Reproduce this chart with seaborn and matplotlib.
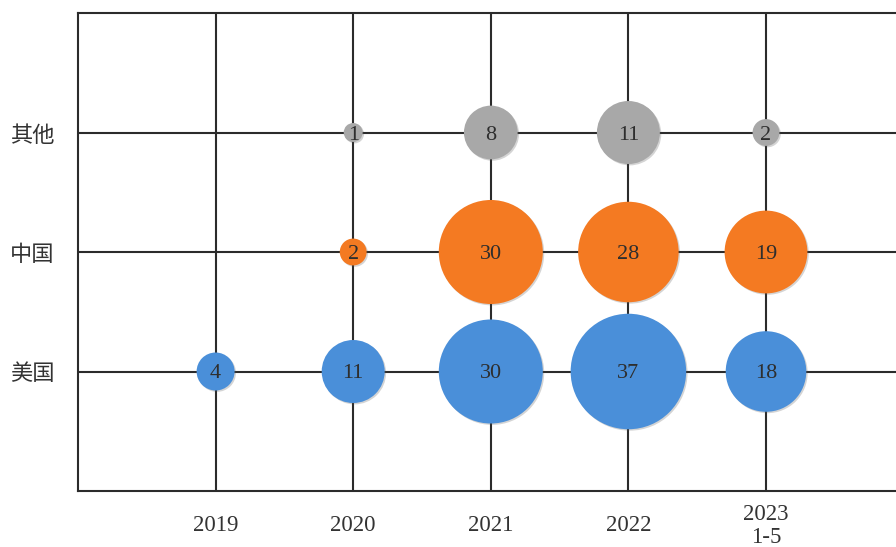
import pandas as pd
import matplotlib
matplotlib.use("Agg")
import matplotlib.pyplot as plt
import matplotlib.patheffects as pe
import seaborn as sns

# Data
years = ["2019", "2020", "2021", "2022", "2023\n1-5"]
regions = ["美国", "中国", "其他"]
us_counts = [4, 11, 30, 37, 18]
cn_counts = [0, 2, 30, 28, 19]
other_counts = [0, 1, 8, 11, 2]

colors = {"美国": "#4a8fd9", "中国": "#f47a22", "其他": "#a8a8a8"}

# long table for seaborn (drop empty cells)
rows = []
for region, counts in zip(regions, [us_counts, cn_counts, other_counts]):
    for i, v in enumerate(counts):
        if v > 0:
            rows.append({"x": i + 1, "y": regions.index(region) + 1,
                         "region": region, "value": v})
df = pd.DataFrame(rows)

sns.set_style("white")
plt.rcParams["font.family"] = ["Liberation Serif", "Noto Sans CJK SC", "DejaVu Sans"]

fig = plt.figure(figsize=(8.96, 5.47), dpi=100)
ax = fig.add_axes([78 / 896, 1 - 491 / 547, 1 - 78 / 896, (491 - 13) / 547])

# bubble area proportional to value
k = 187
sns.scatterplot(
    data=df, x="x", y="y", hue="region", palette=colors,
    size="value", sizes=(k * 1, k * 37), size_norm=(1, 37),
    edgecolor="none", linewidth=0, alpha=1, legend=False, ax=ax, zorder=3,
)
for coll in ax.collections:
    coll.set_path_effects([
        pe.SimplePatchShadow(offset=(1, -1), shadow_rgbFace="#555555", alpha=0.25),
        pe.Normal(),
    ])

for _, r in df.iterrows():
    ax.text(r["x"], r["y"], f"{r['value']}", ha="center", va="center_baseline",
            fontsize=16, color="#2e2e2e", zorder=5,
            family=["Liberation Serif", "DejaVu Serif"])

line_c = "#2b2b2b"
ax.set_xlim(0, (896 - 78) / 137.6)
ax.set_ylim(0, 4)
ax.set_xticks(range(1, len(years) + 1))
ax.set_xticklabels(years, va="center", fontsize=16.5, color="#333333",
                   linespacing=1.1)
ax.set_yticks(range(1, len(regions) + 1))
ax.set_yticklabels(regions, fontsize=16, color="#333333",
                   family=["Noto Sans CJK SC", "DejaVu Sans"])
ax.tick_params(axis="x", length=0, pad=25)
ax.tick_params(axis="y", length=0, pad=17)
ax.set_xlabel("")
ax.set_ylabel("")

ax.grid(True, color=line_c, linewidth=1.5)
ax.set_axisbelow(True)
for side in ["left", "bottom", "top"]:
    ax.spines[side].set_visible(True)
    ax.spines[side].set_color(line_c)
    ax.spines[side].set_linewidth(1.5)
ax.spines["right"].set_visible(False)

fig.savefig("out.png", dpi=100, facecolor="white")
